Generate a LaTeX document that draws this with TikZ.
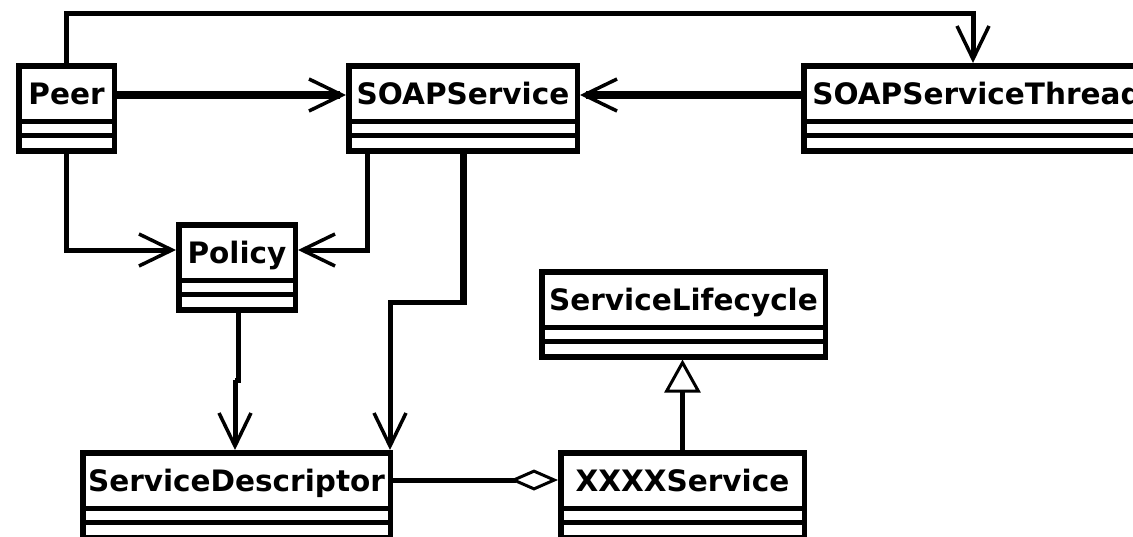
\documentclass[tikz,border=0pt]{standalone}
\usepackage{fontspec}
\newfontfamily\umlfont{DejaVu Sans}
\usetikzlibrary{arrows.meta}

\tikzset{
  cls/.style={draw, line width=5.5pt, rectangle, anchor=north west,
    inner xsep=0pt, inner ysep=0pt, text height=39pt, text depth=46pt,
    font=\umlfont\bfseries\fontsize{29.5pt}{30pt}\selectfont},
  conn/.style={line width=5pt},
  heavy/.style={line width=8pt},
  navi/.style={-{Straight Barb[length=33pt,width=32pt,line width=3.5pt]}},
  aggr/.style={-{Diamond[open,length=48pt,width=21pt,line width=3pt]}},
  gen/.style={-{Triangle[open,length=33pt,width=36pt,line width=3pt]}},
}

% attribute and operation separators of a class box
\newcommand\compartments[1]{%
  \draw[line width=5.5pt] ([yshift=-58.5pt]#1.north west) -- ([yshift=-58.5pt]#1.north east);
  \draw[line width=5pt] ([yshift=-72pt]#1.north west) -- ([yshift=-72pt]#1.north east);
}

\begin{document}
\begin{tikzpicture}[x=1pt,y=-1pt]
\useasboundingbox (0,0) rectangle (1133,536);
\clip (0,0) rectangle (1133,536);

% classes
\node[cls, minimum width=95.5pt]  (peer)   at (16,63)   {Peer};
\node[cls, minimum width=228.5pt] (soap)   at (346,63)  {SOAPService};
\node[cls, minimum width=346.5pt] (thread) at (801,63)  {SOAPServiceThread};
\node[cls, minimum width=116.5pt] (policy) at (176,222) {Policy};
\node[cls, minimum width=283.5pt] (life)   at (539,269) {ServiceLifecycle};
\node[cls, minimum width=307.5pt] (desc)   at (80,450)  {ServiceDescriptor};
\node[cls, minimum width=243.5pt] (xxxx)   at (558,450) {XXXXService};

\foreach \c in {peer,soap,thread,policy,life,desc,xxxx}{\compartments{\c}}

% navigable associations
\draw[heavy, navi] (peer.east |- 0,95) -- (soap.west |- 0,95);
\draw[heavy, navi] (thread.west |- 0,95) -- (soap.east |- 0,95);
\draw[conn, navi] (peer.north) |- (973,13) -- (thread.north -| 973,0);
\draw[conn, navi] (peer.south) |- (policy.west |- 0,250);
\draw[conn, navi] (soap.south -| 367,0) |- (policy.east |- 0,250);

\coordinate (bend) at (463,302);
\draw[line width=7pt] ([yshift=2pt]soap.south -| bend) -- ([yshift=-2.5pt]bend);
\draw[conn, navi] (bend) -| (desc.north -| 390,0);

\coordinate (jog) at (238.5,380);
\draw[conn] (policy.south -| jog) -- (jog) -- ++(-3.5,0);
\draw[conn, navi] (235,380) -- (desc.north -| 235,0);

% aggregation and generalization
\draw[conn, aggr] (desc.east |- 0,480) -- (xxxx.west |- 0,480);
\draw[conn, gen] (xxxx.north) -- (life.south -| xxxx.north);
\end{tikzpicture}
\end{document}
